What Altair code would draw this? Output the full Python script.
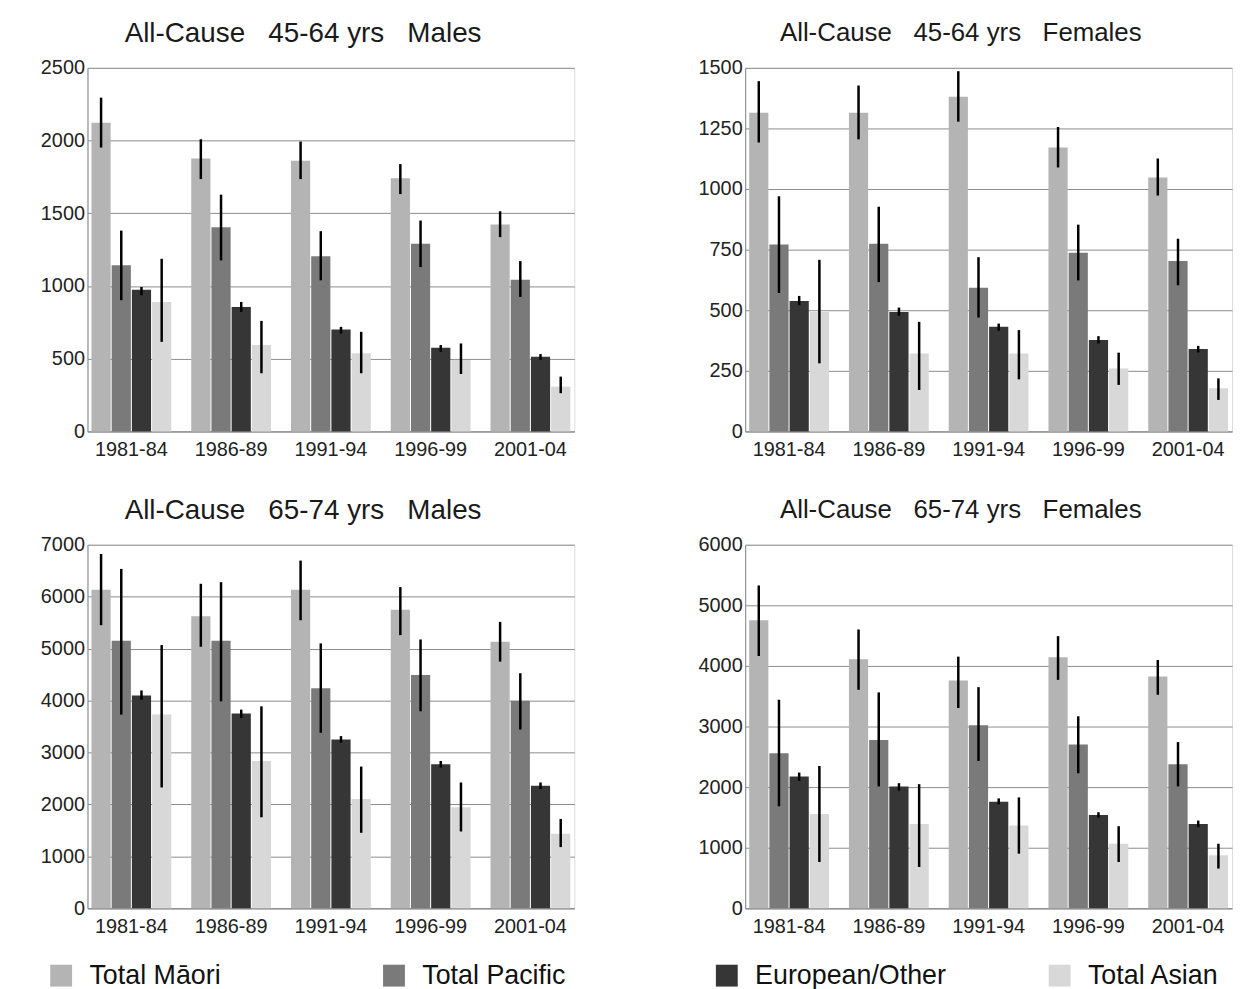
import altair as alt
import pandas as pd

periods = ["1981-84", "1986-89", "1991-94", "1996-99", "2001-04"]
groups = ["Total Māori", "Total Pacific", "European/Other", "Total Asian"]
colors = ["#b4b4b4", "#7a7a7a", "#363636", "#d8d8d8"]

# All-Cause 45-64 yrs Males  (rows: Māori, Pacific, European/Other, Asian)
m4564_rate = [[2123, 1877, 1861, 1740, 1422],
              [1142, 1404, 1205, 1290, 1043],
              [975, 856, 701, 575, 514],
              [890, 594, 537, 491, 308]]
m4564_lo = [[1952, 1735, 1735, 1632, 1336],
            [902, 1176, 1039, 1130, 925],
            [936, 822, 673, 548, 491],
            [616, 400, 400, 395, 263]]
m4564_hi = [[2295, 2009, 1993, 1838, 1514],
            [1381, 1628, 1377, 1450, 1171],
            [993, 890, 719, 594, 532],
            [1187, 760, 685, 605, 377]]

# All-Cause 45-64 yrs Females
f4564_rate = [[1315, 1315, 1381, 1171, 1048],
              [771, 774, 593, 737, 703],
              [538, 493, 432, 377, 340],
              [493, 322, 322, 260, 178]]
f4564_lo = [[1192, 1205, 1278, 1089, 973],
            [571, 616, 470, 623, 603],
            [521, 477, 415, 363, 326],
            [281, 171, 215, 192, 130]]
f4564_hi = [[1445, 1427, 1486, 1256, 1126],
            [970, 927, 719, 853, 795],
            [559, 511, 445, 393, 353],
            [708, 452, 418, 325, 219]]

# All-Cause 65-74 yrs Males
m6574_rate = [[6133, 5623, 6133, 5750, 5132],
              [5151, 5151, 4239, 4494, 3997],
              [4099, 3749, 3251, 2773, 2359],
              [3729, 2837, 2104, 1944, 1434]]
m6574_lo = [[5451, 5036, 5546, 5259, 4749],
            [3729, 3984, 3379, 3793, 3443],
            [4016, 3666, 3188, 2709, 2295],
            [2327, 1753, 1454, 1479, 1179]]
m6574_hi = [[6821, 6248, 6694, 6184, 5514],
            [6534, 6279, 5100, 5176, 4526],
            [4195, 3825, 3315, 2837, 2423],
            [5068, 3889, 2729, 2423, 1721]]

# All-Cause 65-74 yrs Females
f6574_rate = [[4754, 4109, 3759, 4142, 3825],
              [2557, 2776, 3022, 2705, 2377],
              [2175, 2011, 1759, 1541, 1393],
              [1557, 1393, 1366, 1066, 874]]
f6574_lo = [[4164, 3606, 3306, 3770, 3524],
            [1683, 2011, 2432, 2229, 2011],
            [2104, 1940, 1716, 1497, 1339],
            [765, 683, 902, 765, 656]]
f6574_hi = [[5327, 4601, 4153, 4491, 4098],
            [3442, 3563, 3650, 3169, 2743],
            [2240, 2065, 1814, 1585, 1448],
            [2349, 2049, 1830, 1355, 1066]]

ticks_m4564 = [0, 500, 1000, 1500, 2000, 2500]
ticks_f4564 = [0, 250, 500, 750, 1000, 1250, 1500]
ticks_m6574 = [0, 1000, 2000, 3000, 4000, 5000, 6000, 7000]
ticks_f6574 = [0, 1000, 2000, 3000, 4000, 5000, 6000]

SP = "\u00a0"
titles = [
    f"All-Cause{SP*3}45-64 yrs{SP*3}Males",
    f"All-Cause{SP*3}45-64 yrs{SP*3}Females",
    f"All-Cause{SP*3}65-74 yrs{SP*3}Males",
    f"All-Cause{SP*3}65-74 yrs{SP*3}Females",
]

FONT = "Liberation Sans"


def make_df(rate, lo, hi):
    rows = []
    for gi, g in enumerate(groups):
        for pi, p in enumerate(periods):
            rows.append({"period": p, "group": g, "rate": rate[gi][pi],
                         "lo": lo[gi][pi], "hi": hi[gi][pi]})
    return pd.DataFrame(rows)


def panel(title, rate, lo, hi, ticks, title_size, title_offset):
    df = make_df(rate, lo, hi)
    base = alt.Chart(df)
    x = alt.X("period:N", sort=periods,
              scale=alt.Scale(paddingInner=0.2, paddingOuter=0.04),
              axis=alt.Axis(title=None, labelAngle=0, ticks=False,
                            labelPadding=8, labelFontSize=20,
                            labelColor="#222", labelFont=FONT,
                            domainColor="#888", grid=False))
    xo = alt.XOffset("group:N", sort=groups,
                     scale=alt.Scale(paddingInner=0.05, paddingOuter=0))
    y_axis = alt.Axis(title=None, values=ticks, ticks=False, labelPadding=3,
                      format="d",
                      labelFontSize=20, labelColor="#222", labelFont=FONT,
                      domainColor="#888", gridColor="#8c8c8c",
                      gridWidth=1, minExtent=79, maxExtent=79)
    bars = base.mark_bar().encode(
        x=x, xOffset=xo,
        y=alt.Y("rate:Q", scale=alt.Scale(domain=[0, ticks[-1]], nice=False),
                axis=y_axis),
        color=alt.Color("group:N", sort=groups,
                        scale=alt.Scale(domain=groups, range=colors),
                        legend=alt.Legend(
                            title=None, orient="none", direction="horizontal",
                            columns=4, legendX=-40, legendY=900,
                            symbolType="square", symbolSize=484,
                            symbolStrokeWidth=0, labelFontSize=27,
                            labelFont=FONT, labelColor="#111",
                            labelLimit=0,
                            columnPadding=100, gridAlign="all",
                            labelOffset=15)),
    )
    rules = base.mark_rule(color="black", strokeWidth=2.5).encode(
        x=x, xOffset=xo, y="lo:Q", y2="hi:Q")
    return alt.layer(bars, rules).properties(
        width=490, height=366,
        title=alt.TitleParams(title, fontSize=title_size, font=FONT,
                              fontWeight="normal", color="#1a1a1a",
                              anchor="middle", dx=-28, offset=title_offset))


p1 = panel(titles[0], m4564_rate, m4564_lo, m4564_hi, ticks_m4564, 28, 10)
p2 = panel(titles[1], f4564_rate, f4564_lo, f4564_hi, ticks_f4564, 26, 12)
p3 = panel(titles[2], m6574_rate, m6574_lo, m6574_hi, ticks_m6574, 28, 10)
p4 = panel(titles[3], f6574_rate, f6574_lo, f6574_hi, ticks_f6574, 26, 12)

row1 = alt.hconcat(p1, p2, spacing=91)
row2 = alt.hconcat(p3, p4, spacing=91)
chart = alt.vconcat(row1, row2, spacing=36).properties(
    padding={"top": 8, "left": 0, "right": 0, "bottom": 0}
).configure_view(stroke=None).configure(background="white")

chart.save("out.html", embed_options={"renderer": "svg", "actions": False})
